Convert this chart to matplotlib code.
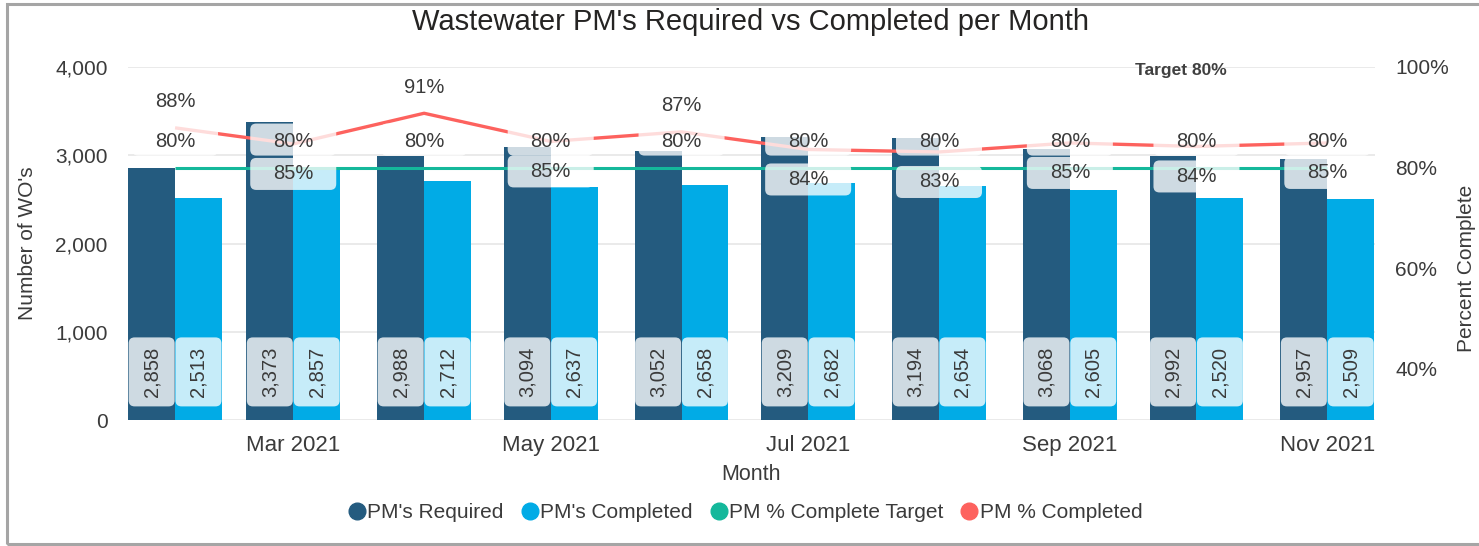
import matplotlib
matplotlib.use("Agg")
import matplotlib.pyplot as plt
import matplotlib.transforms as mtransforms
from matplotlib.patches import FancyBboxPatch, Rectangle
from matplotlib.lines import Line2D
import matplotlib.dates as mdates
import pandas as pd

# ---------------- data ----------------
months = ['2021-02-01', '2021-03-01', '2021-04-01', '2021-05-01', '2021-06-01',
          '2021-07-01', '2021-08-01', '2021-09-01', '2021-10-01', '2021-11-01']
required = [2858, 3373, 2988, 3094, 3052, 3209, 3194, 3068, 2992, 2957]
completed = [2513, 2857, 2712, 2637, 2658, 2682, 2654, 2605, 2520, 2509]
pct_completed = [87.9, 84.7, 90.8, 85.2, 87.1, 83.6, 83.1, 84.9, 84.2, 84.9]
pct_labels = ['88%', '85%', '91%', '85%', '87%', '84%', '83%', '85%', '84%', '85%']
target = [80, 80, 80, 80, 80, 80, 80, 80, 80, 80]
target_labels = ['80%'] * 10
tick_dates = ['2021-03-01', '2021-05-01', '2021-07-01', '2021-09-01', '2021-11-01']
tick_labels = ['Mar 2021', 'May 2021', 'Jul 2021', 'Sep 2021', 'Nov 2021']
left_ticks = [0, 1000, 2000, 3000, 4000]
left_tick_labels = ['0', '1,000', '2,000', '3,000', '4,000']
right_ticks = [40, 60, 80, 100]
right_tick_labels = ['40%', '60%', '80%', '100%']
# label placement for % completed (above point or below)
pct_above = [True, False, True, False, True, False, False, False, False, False]

# ---------------- style ----------------
DPI = 100
W, H = 1479, 546
DARK = '#245b7f'
LIGHT = '#01abe6'
GREEN = '#14b89b'
RED = '#fd625e'
TXT = '#3b3b3b'
FONT = 'Liberation Sans'
plt.rcParams['font.family'] = [FONT, 'DejaVu Sans']

fig = plt.figure(figsize=(W / DPI, H / DPI), dpi=DPI)
fig.patch.set_facecolor('white')

def fx(px):
    return px / W

def fy(py):
    return 1 - py / H

ax = fig.add_axes([fx(128), fy(420), fx(1375) - fx(128), fy(67) - fy(420)])
ax2 = ax.twinx()

x = mdates.date2num(pd.to_datetime(months))
bw = 11.1  # days

ax.bar(x, required, width=-bw, align='edge', color=DARK, zorder=2)
ax.bar(x, completed, width=bw, align='edge', color=LIGHT, zorder=2)

ax.set_xlim(x[0] - 11.15, x[-1] + 11.3)
ax.set_ylim(0, 4000)
ax.set_yticks(left_ticks)
ax.set_yticklabels(left_tick_labels)
ax.grid(axis='y', color='#e6e6e6', lw=1.2, zorder=0)
ax.set_axisbelow(True)
tx = mdates.date2num(pd.to_datetime(tick_dates))
ax.set_xticks(tx)
ax.set_xticklabels(tick_labels)
ax.tick_params(axis='both', length=0, labelsize=15, labelcolor=TXT)
ax.tick_params(axis='x', labelsize=16, pad=10.5)
ax.tick_params(axis='y', pad=14.5)
for s in ax.spines.values():
    s.set_visible(False)

ax2.set_ylim(29.8, 100)
ax2.set_yticks(right_ticks)
ax2.set_yticklabels(right_tick_labels)
ax2.tick_params(axis='y', length=0, labelsize=15, labelcolor=TXT, pad=14.5)
for s in ax2.spines.values():
    s.set_visible(False)


def px_trans(axis, xv, yv):
    return (mtransforms.Affine2D().scale(1.0 / DPI) + fig.dpi_scale_trans
            + mtransforms.ScaledTranslation(xv, yv, axis.transData))


def box(axis, xv, yv, w, h, dy=0, z=4, alpha=0.78):
    p = FancyBboxPatch((-w / 2, dy - h / 2), w, h,
                       boxstyle='round,pad=0,rounding_size=6',
                       transform=px_trans(axis, xv, yv),
                       fc='white', ec='none', alpha=alpha, zorder=z, clip_on=False)
    axis.add_artist(p)

# bottom value labels
for xi, r, c in zip(x, required, completed):
    for xc, v in ((xi - bw / 2, r), (xi + bw / 2, c)):
        box(ax, xc, 545, 46, 69, z=3)
        ax.text(xc, 545, f'{v:,}', rotation=90, ha='center', va='center',
                fontsize=14.5, color=TXT, zorder=5)

# lines on the percent axis
ax2.plot(x, target, color=GREEN, lw=2.2, zorder=2, solid_capstyle='butt')
ax2.plot(x, pct_completed, color=RED, lw=2.4, zorder=3, solid_capstyle='butt')

# target labels
for xi, t, lab in zip(x, target, target_labels):
    box(ax2, xi, t, 86, 32, dy=28, z=4)
    ax2.annotate(lab, (xi, t), xytext=(0, 26 * 0.72), textcoords='offset points',
                 ha='center', va='center', fontsize=14.5, color=TXT, zorder=6)

# percent completed labels
for xi, p, lab, up in zip(x, pct_completed, pct_labels, pct_above):
    dy = 26 if up else -30
    box(ax2, xi, p, 86, 32, dy=dy, z=4)
    ax2.annotate(lab, (xi, p), xytext=(0, dy * 0.72), textcoords='offset points',
                 ha='center', va='center', fontsize=14.5, color=TXT, zorder=6)

# texts
fig.text(fx(751), fy(22), "Wastewater PM's Required vs Completed per Month",
         ha='center', va='center', fontsize=21, color='#252423')
fig.text(fx(28), fy(243), "Number of WO's", rotation=90, ha='center', va='center',
         fontsize=15, color=TXT)
fig.text(fx(1467), fy(268), 'Percent Complete', rotation=90, ha='center', va='center',
         fontsize=15, color=TXT)
fig.text(fx(751), fy(474), 'Month', ha='center', va='center', fontsize=15.5, color=TXT)
fig.text(fx(1181), fy(71), 'Target 80%', ha='center', va='center', fontsize=12.5,
         fontweight='bold', color='#404040')

# legend
handles = [Line2D([], [], ls='none', marker='o', ms=12, color=c, mec=c)
           for c in (DARK, LIGHT, GREEN, RED)]
names = ["PM's Required", "PM's Completed", 'PM % Complete Target', 'PM % Completed']
fig.legend(handles, names, loc='center', bbox_to_anchor=(fx(746), fy(513)), ncol=4,
           frameon=False, fontsize=15, handlelength=0.7, handletextpad=0.15,
           columnspacing=0.9, labelcolor=TXT)

# outer border
fig.patches.append(Rectangle((fx(7), fy(544)), fx(1490) - fx(7), fy(4) - fy(544),
                             transform=fig.transFigure, fill=False, ec='#a5a5a5',
                             lw=2.2, zorder=10))

fig.savefig('out.png', dpi=DPI, facecolor='white')
